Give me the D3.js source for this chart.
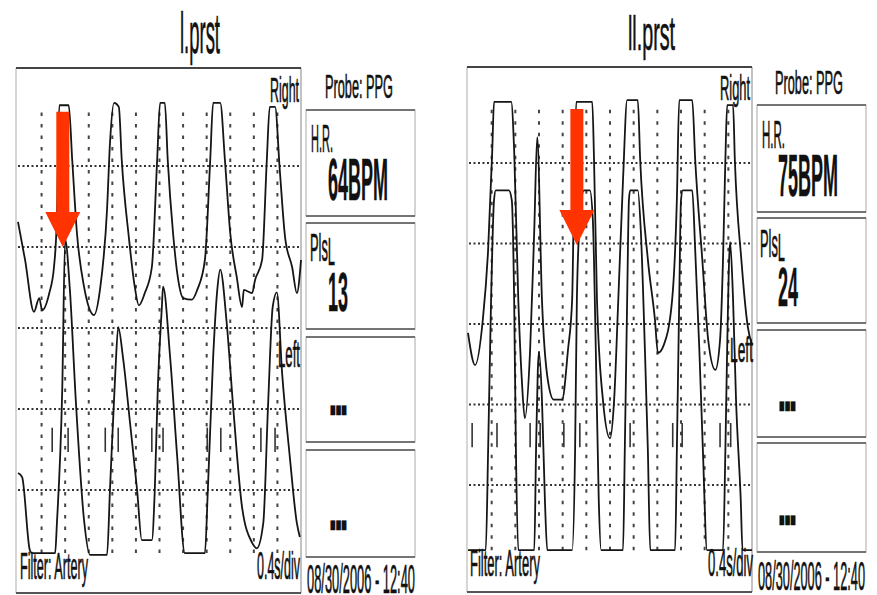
<!DOCTYPE html>
<html>
<head>
<meta charset="utf-8">
<script src="https://cdn.jsdelivr.net/npm/d3@7"></script>
<style>
body { margin: 0; background: #fff; }
svg { display: block; font-family: "Liberation Sans", Arial, sans-serif; }
</style>
</head>
<body>
<svg id="chart" width="877" height="595"></svg>
<script>
// values (time in s, level in grid divisions)
var panelNames = ["l.prst", "ll.prst"];
var heartRates = ["64BPM", "75BPM"];
var pulseLevels = ["13", "24"];
var probeLabel = "Probe: PPG";
var filterLabel = "Filter: Artery";
var sweepLabel = "0.4s/div";
var stampLabel = "08/30/2006 - 12:40";
var emptyValue = "\u25A0\u25A0\u25A0";

var divTimes = [0.4, 0.8, 1.2, 1.6, 2.0, 2.4, 2.8, 3.2, 3.6, 4.0, 4.4];
var gridLevels = [1, 2, 3, 4, 5];

// l.prst - right probe (upper trace)
var rightTraceA = [[0,4.31],[0.12,3.84],[0.27,3.20],[0.36,3.37],[0.41,3.22],[0.53,3.43],[0.61,3.75],[0.66,4.37],
  [0.70,5.75],[0.86,5.75],[0.92,5.07],[1.00,4.17],[1.12,3.51],[1.20,3.26],[1.29,3.16],[1.39,3.47],[1.51,4.46],
  [1.56,5.28],[1.63,5.78],[1.71,5.73],[1.76,5.07],[1.88,4.12],[1.98,3.51],[2.05,3.28],[2.15,3.43],[2.27,3.75],
  [2.36,5.07],[2.41,5.78],[2.49,5.78],[2.54,5.07],[2.63,4.17],[2.71,3.63],[2.80,3.37],[2.95,3.35],[3.04,3.47],
  [3.17,3.84],[3.26,5.07],[3.31,5.78],[3.43,5.78],[3.51,5.07],[3.60,4.17],[3.71,3.63],[3.80,3.26],[3.83,3.47],
  [3.97,3.43],[4.02,3.59],[4.14,3.84],[4.22,5.07],[4.27,5.73],[4.36,5.73],[4.44,4.95],[4.53,4.12],[4.65,3.75],
  [4.73,3.43],[4.80,3.84]];
// l.prst - left probe (lower trace)
var leftTraceA = [[0,1.21],[0.07,1.16],[0.20,0.26],[0.24,0.22],[0.63,0.22],[0.66,0.59],[0.75,2.23],[0.80,4.09],
  [0.88,3.47],[0.98,2.11],[1.12,0.63],[1.22,0.20],[1.51,0.20],[1.56,1.00],[1.65,2.44],[1.70,3.01],[1.78,2.64],
  [1.90,1.83],[2.02,1.00],[2.10,0.38],[2.27,0.38],[2.32,1.00],[2.37,2.23],[2.44,3.26],[2.46,3.51],[2.58,2.64],
  [2.70,1.41],[2.83,0.22],[3.17,0.22],[3.22,1.00],[3.31,2.64],[3.38,3.47],[3.43,3.72],[3.54,3.06],[3.65,2.02],
  [3.80,0.79],[3.97,0.35],[4.05,0.28],[4.16,0.59],[4.24,2.02],[4.32,3.26],[4.39,3.44],[4.48,2.44],[4.61,1.41],
  [4.73,0.59],[4.78,0.42]];
// ll.prst - right probe
var rightTraceB = [[0,2.89],[0.12,2.49],[0.25,3.05],[0.34,3.92],[0.41,5.16],[0.44,5.76],[0.73,5.76],[0.78,5.16],
  [0.85,3.30],[0.91,2.30],[0.96,1.83],[1.05,2.68],[1.12,4.17],[1.17,5.32],[1.25,3.30],[1.35,2.30],[1.45,2.06],
  [1.59,2.06],[1.69,2.68],[1.76,3.30],[1.79,4.54],[1.83,5.76],[2.10,5.76],[2.13,5.04],[2.18,3.30],[2.28,2.06],
  [2.40,1.58],[2.47,2.06],[2.54,3.30],[2.62,4.79],[2.69,5.78],[2.87,5.78],[2.91,5.04],[3.04,3.80],[3.16,3.05],
  [3.21,2.64],[3.31,2.74],[3.45,3.30],[3.53,4.54],[3.57,5.78],[3.79,5.78],[3.84,5.04],[3.96,3.80],[4.06,2.80],
  [4.18,2.43],[4.26,2.80],[4.31,3.80],[4.35,5.04],[4.38,5.72],[4.48,5.72],[4.51,5.04],[4.62,3.80],[4.73,2.96],
  [4.80,2.74]];
// ll.prst - left probe
var leftTraceB = [[0,0.19],[0.30,0.19],[0.34,1.43],[0.39,3.30],[0.44,4.54],[0.47,4.66],[0.69,4.66],[0.74,4.54],
  [0.78,3.30],[0.81,1.43],[0.85,0.19],[1.12,0.19],[1.15,1.43],[1.18,2.43],[1.20,2.65],[1.25,2.06],[1.30,0.81],
  [1.34,0.19],[1.76,0.19],[1.81,1.43],[1.84,3.30],[1.89,4.29],[1.96,4.66],[2.06,4.66],[2.11,4.29],[2.16,2.68],
  [2.21,0.81],[2.25,0.19],[2.62,0.19],[2.65,1.43],[2.69,3.30],[2.72,4.54],[2.74,4.66],[2.87,4.66],[2.92,4.17],
  [2.99,2.68],[3.04,1.43],[3.08,0.19],[3.50,0.19],[3.53,1.43],[3.57,3.30],[3.60,4.54],[3.63,4.66],[3.79,4.66],
  [3.84,3.92],[3.91,2.68],[3.97,1.43],[4.04,0.19],[4.31,0.19],[4.35,1.43],[4.38,2.68],[4.43,4.02],[4.48,3.30],
  [4.53,2.06],[4.61,0.81],[4.64,0.19],[4.80,0.19]];

// beat markers (s)
var beatMarksA = [0.58, 0.85, 1.48, 1.70, 2.27, 2.46, 3.21, 3.44, 4.12, 4.36];
var beatMarksB = [0.07, 0.49, 1.05, 1.22, 1.62, 1.89, 2.74, 3.46, 3.62, 4.26, 4.44];
// red arrows: [time, level of tip]
var arrowTips = [[0.76, 4.0], [1.84, 3.98]];

var traces = [[rightTraceA, leftTraceA], [rightTraceB, leftTraceB]];
var beatMarks = [beatMarksA, beatMarksB];

// page layout of the two printouts
var layout = [
  { x0: 18, x1: 301, y1: 490, y5: 166, frame: [16, 68, 301, 593],
    title: [180, 53, 57, 40], right: [270, 102, 35, 29], left: [278, 367, 37, 22],
    filter: [20, 579, 36, 68], sweep: [257, 579, 38, 43], probe: [325, 98, 34, 68],
    boxX: 306, boxes: [[110, 216], [223, 329], [337, 442], [450, 557]],
    hrLab: [311, 152, 38, 22], hrVal: [328, 200, 60, 60], plsLab: [310, 261, 39, 25], plsVal: [328, 311, 56, 20],
    dots: [[330, 416], [330, 531]], date: [307, 593, 41, 108] },
  { x0: 468, x1: 752, y1: 485, y5: 163, frame: [467, 67, 752, 592],
    title: [628, 50, 48, 47], right: [720, 100, 35, 30], left: [730, 362, 35, 23],
    filter: [470, 576, 36, 70], sweep: [708, 576, 38, 45], probe: [775, 94, 34, 68],
    boxX: 757, boxes: [[105, 212], [218, 323], [330, 437], [443, 552]],
    hrLab: [762, 148, 38, 23], hrVal: [778, 196, 60, 60], plsLab: [760, 257, 39, 25], plsVal: [778, 306, 56, 20],
    dots: [[779, 412], [779, 526]], date: [758, 590, 41, 107] }
];

var svg = d3.select("#chart");

// condensed, scan-dark text
function label(g, str, p, weight) {
  return g.append("text")
    .attr("x", p[0]).attr("y", p[1])
    .attr("font-size", p[2])
    .attr("textLength", p[3]).attr("lengthAdjust", "spacingAndGlyphs")
    .attr("font-weight", weight || "normal")
    .attr("fill", "#111")
    .attr("stroke", "#111").attr("stroke-width", weight ? 0.4 : 0.7)
    .text(str);
}

function drawPanel(i) {
  var L = layout[i];
  var g = svg.append("g").attr("class", "panel");
  var x = d3.scaleLinear().domain([0, 4.8]).range([L.x0, L.x1]);
  var y = d3.scaleLinear().domain([1, 5]).range([L.y1, L.y5]);
  var f = L.frame;

  // frame of the trace area
  g.append("line").attr("x1", f[0]).attr("x2", f[0]).attr("y1", f[1]).attr("y2", f[3])
    .attr("stroke", "#bbb").attr("stroke-width", 1.2);
  g.append("line").attr("x1", f[2]).attr("x2", f[2]).attr("y1", f[1]).attr("y2", f[3])
    .attr("stroke", "#999").attr("stroke-width", 1.2);
  g.append("line").attr("x1", f[0]).attr("x2", f[2]).attr("y1", f[1]).attr("y2", f[1])
    .attr("stroke", "#444").attr("stroke-width", 2);
  g.append("line").attr("x1", f[0]).attr("x2", f[2]).attr("y1", f[3]).attr("y2", f[3])
    .attr("stroke", "#555").attr("stroke-width", 2);

  // dotted grid
  g.selectAll(".hgrid").data(gridLevels).enter().append("line")
    .attr("class", "hgrid")
    .attr("x1", f[0] + 2).attr("x2", f[2] - 2)
    .attr("y1", function(d) { return y(d); }).attr("y2", function(d) { return y(d); })
    .attr("stroke", "#333").attr("stroke-width", 2.2).attr("stroke-dasharray", "2 2.5");
  g.selectAll(".vgrid").data(divTimes).enter().append("line")
    .attr("class", "vgrid")
    .attr("x1", function(d) { return x(d); }).attr("x2", function(d) { return x(d); })
    .attr("y1", y(5.66)).attr("y2", y(0.14))
    .attr("stroke", "#444").attr("stroke-width", 2).attr("stroke-dasharray", "3.5 8");

  // beat markers
  g.selectAll(".mark").data(beatMarks[i]).enter().append("line")
    .attr("class", "mark")
    .attr("x1", function(d) { return x(d); }).attr("x2", function(d) { return x(d); })
    .attr("y1", y(1.77)).attr("y2", y(1.47))
    .attr("stroke", "#333").attr("stroke-width", 1.6);

  // traces
  var line = d3.line()
    .x(function(d) { return x(d[0]); })
    .y(function(d) { return y(d[1]); })
    .curve(d3.curveMonotoneX);
  g.selectAll(".trace").data(traces[i]).enter().append("path")
    .attr("class", "trace")
    .attr("d", line)
    .attr("fill", "none").attr("stroke", "#151515").attr("stroke-width", 1.8)
    .attr("stroke-linejoin", "round");

  // labels inside the trace area
  label(g, panelNames[i], L.title);
  label(g, "Right", L.right);
  label(g, "Left", L.left);
  label(g, filterLabel, L.filter);
  label(g, sweepLabel, L.sweep);

  // side column
  label(g, probeLabel, L.probe);
  L.boxes.forEach(function(b) {
    g.append("rect").attr("x", L.boxX).attr("y", b[0]).attr("width", 109).attr("height", b[1] - b[0])
      .attr("fill", "none").attr("stroke", "#aaa").attr("stroke-width", 1);
    g.append("line").attr("x1", L.boxX).attr("x2", L.boxX + 109).attr("y1", b[0]).attr("y2", b[0])
      .attr("stroke", "#555").attr("stroke-width", 1.6);
    g.append("line").attr("x1", L.boxX).attr("x2", L.boxX + 109).attr("y1", b[1]).attr("y2", b[1])
      .attr("stroke", "#555").attr("stroke-width", 1.6);
  });
  label(g, "H.R.", L.hrLab);
  label(g, heartRates[i], L.hrVal, "bold");
  var pls = label(g, "Pls", L.plsLab);
  pls.append("tspan").attr("dy", 4).text("L");
  label(g, pulseLevels[i], L.plsVal, "bold");
  L.dots.forEach(function(p) { label(g, emptyValue, [p[0], p[1], 19, 17], "bold"); });
  label(g, stampLabel, L.date);

  // red arrow
  var tip = arrowTips[i];
  var tx = x(tip[0]), ty = y(tip[1]), top = y(5.67);
  var hw = 6.5, hh = 17.5, hl = 35;
  var pts = [[tx - hw, top], [tx + hw, top], [tx + hw, ty - hl], [tx + hh, ty - hl], [tx, ty],
             [tx - hh, ty - hl], [tx - hw, ty - hl]];
  g.append("path")
    .attr("d", "M" + pts.map(function(p) { return p[0] + "," + p[1]; }).join("L") + "Z")
    .attr("fill", "#ff3300");
}

drawPanel(0);
drawPanel(1);
</script>
</body>
</html>
